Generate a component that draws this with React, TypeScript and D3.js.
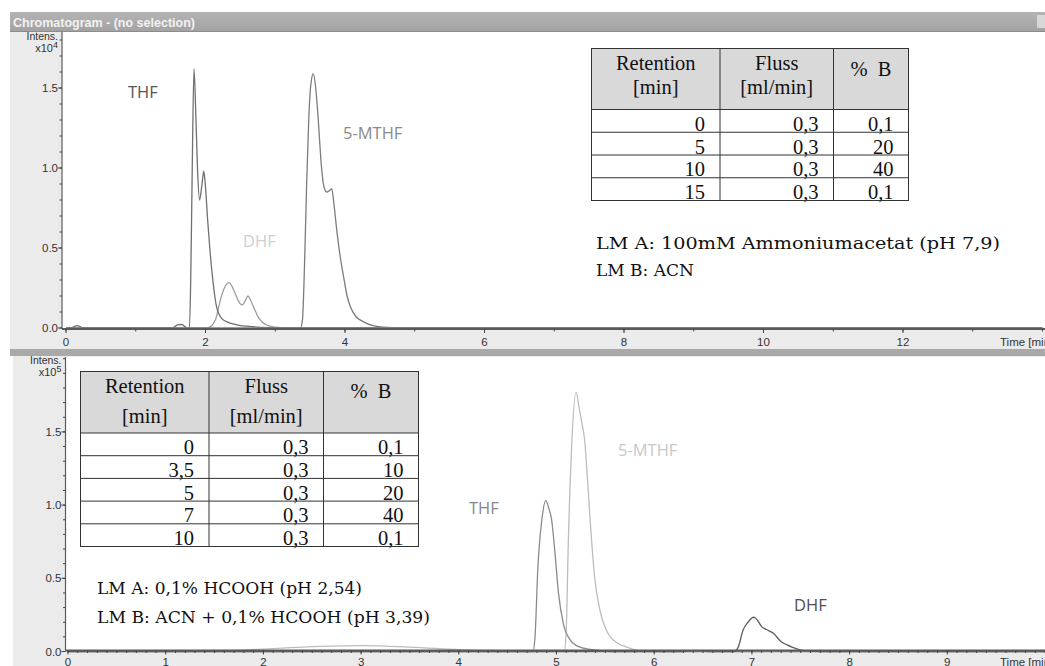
import React from "react";
import * as d3 from "d3";

type Pt = [number, number];

// Upper run: retention time [min] vs. intensity (x10^4)
const upperTHF: Pt[] = [
  [0, 0], [0.08, 0.002], [0.16, 0.015], [0.24, 0.002], [0.4, 0], [1.52, 0], [1.6, 0.02], [1.66, 0.022],
  [1.72, 0.004], [1.77, 0], [1.79, 0.35], [1.81, 1.0], [1.835, 1.62], [1.86, 1.35], [1.885, 1.0],
  [1.915, 0.8], [1.95, 0.9], [1.975, 0.98], [2.0, 0.88], [2.03, 0.68], [2.065, 0.48], [2.11, 0.28],
  [2.16, 0.13], [2.23, 0.06], [2.3, 0.04], [2.45, 0.02], [2.68, 0.008], [3.0, 0.002], [3.2, 0], [14, 0],
];
const upperDHF: Pt[] = [
  [0, 0], [2.0, 0], [2.04, 0.003], [2.1, 0.02], [2.15, 0.06], [2.21, 0.17], [2.27, 0.25], [2.34, 0.283],
  [2.38, 0.26], [2.44, 0.2], [2.5, 0.15], [2.53, 0.145], [2.57, 0.17], [2.61, 0.2], [2.65, 0.17],
  [2.7, 0.12], [2.76, 0.065], [2.82, 0.035], [2.9, 0.015], [3.0, 0.005], [3.15, 0], [14, 0],
];
const upperMTHF: Pt[] = [
  [0, 0], [3.36, 0], [3.39, 0.05], [3.42, 0.4], [3.45, 0.9], [3.48, 1.3], [3.51, 1.52], [3.545, 1.59],
  [3.58, 1.5], [3.62, 1.28], [3.66, 1.02], [3.7, 0.88], [3.74, 0.85], [3.78, 0.86], [3.81, 0.87],
  [3.84, 0.78], [3.88, 0.62], [3.93, 0.45], [3.98, 0.32], [4.03, 0.2], [4.08, 0.13], [4.15, 0.075],
  [4.26, 0.04], [4.4, 0.015], [4.6, 0.003], [4.8, 0], [14, 0],
];

// Lower run: retention time [min] vs. intensity (x10^5)
const lowerTHF: Pt[] = [
  [0, 0], [4.76, 0], [4.78, 0.1], [4.81, 0.58], [4.85, 0.9], [4.89, 1.03], [4.92, 0.98], [4.95, 0.9],
  [4.985, 0.67], [5.02, 0.4], [5.07, 0.19], [5.14, 0.08], [5.24, 0.03], [5.4, 0.01], [5.55, 0], [10, 0],
];
const lowerMTHF: Pt[] = [
  [0, 0], [1.2, 0], [1.8, 0.01], [2.4, 0.03], [3.0, 0.04], [3.5, 0.03], [4.0, 0.012], [4.5, 0],
  [5.08, 0], [5.1, 0.15], [5.12, 0.72], [5.155, 1.4], [5.2, 1.77], [5.235, 1.65], [5.26, 1.56],
  [5.29, 1.43], [5.315, 1.2], [5.34, 0.94], [5.39, 0.51], [5.445, 0.28], [5.5, 0.16], [5.55, 0.1],
  [5.63, 0.055], [5.72, 0.03], [5.85, 0.005], [6.0, 0], [10, 0],
];
const lowerDHF: Pt[] = [
  [0, 0], [6.3, 0], [6.35, 0.006], [6.5, 0.006], [6.55, 0], [6.82, 0], [6.86, 0.03], [6.91, 0.147],
  [6.96, 0.2], [7.02, 0.234], [7.06, 0.21], [7.1, 0.17], [7.15, 0.15], [7.22, 0.124], [7.3, 0.067],
  [7.36, 0.045], [7.41, 0.03], [7.5, 0.01], [7.6, 0.003], [7.7, 0], [10, 0],
];

// Axis ticks
const upperXLabels = [0, 2, 4, 6, 8, 10, 12];
const lowerXLabels = [0, 1, 2, 3, 4, 5, 6, 7, 8, 9];
const yLabels = [0, 0.5, 1.0, 1.5];

// Gradient tables
const tableHeader = [["Retention", "[min]"], ["Fluss", "[ml/min]"], ["%  B"]];
const upperRetention = ["0", "5", "10", "15"];
const upperFlow = ["0,3", "0,3", "0,3", "0,3"];
const upperPercentB = ["0,1", "20", "40", "0,1"];
const lowerRetention = ["0", "3,5", "5", "7", "10"];
const lowerFlow = ["0,3", "0,3", "0,3", "0,3", "0,3"];
const lowerPercentB = ["0,1", "10", "20", "40", "0,1"];

const upperEluents = ["LM A: 100mM Ammoniumacetat (pH 7,9)", "LM B: ACN"];
const lowerEluents = ["LM A: 0,1% HCOOH (pH 2,54)", "LM B: ACN + 0,1% HCOOH (pH 3,39)"];

const AXIS_FONT = "'Liberation Sans', Arial, sans-serif";
const LABEL_FONT = "'Open Sans', 'Noto Sans', sans-serif";
const TABLE_FONT = "'Liberation Serif', 'Times New Roman', serif";
const NOTE_FONT = "'DejaVu Serif', serif";

type Trace = { data: Pt[]; color: string };
type PeakLabel = { text: string; x: number; y: number; color: string };

type PanelProps = {
  bgX: number; bgTop: number; bgBottom: number;
  axisX: number; axisY: number; plotTop: number;
  xDomain: [number, number]; xRange: [number, number];
  yDomain: [number, number]; yRange: [number, number];
  xLabels: number[]; xMinorStep: number; yMinorMax: number;
  labelRight: number; tickLabelBaseline: number;
  exponent: string; intensY: number; expY: number;
  traces: Trace[]; peaks: PeakLabel[];
};

function Panel(p: PanelProps) {
  const x = d3.scaleLinear().domain(p.xDomain).range(p.xRange);
  const y = d3.scaleLinear().domain(p.yDomain).range(p.yRange);
  const line = d3
    .line<Pt>()
    .x((d) => x(d[0]))
    .y((d) => y(d[1]))
    .curve(d3.curveMonotoneX);
  const xMinor = d3.range(p.xDomain[0], p.xDomain[1] + 1e-6, p.xMinorStep);
  const yMinor = d3.range(0, p.yMinorMax + 1e-6, 0.1);
  return (
    <g>
      <rect x={p.bgX} y={p.bgTop} width={1045 - p.bgX} height={p.bgBottom - p.bgTop} fill="#ebebeb" />
      <rect x={p.axisX} y={p.plotTop} width={1045 - p.axisX} height={p.axisY - p.plotTop} fill="#ffffff" />
      {p.traces.map((t, i) => (
        <path key={i} d={line(t.data) || ""} fill="none" stroke={t.color} strokeWidth={1.3} strokeLinejoin="round" />
      ))}
      {p.peaks.map((l, i) => (
        <text key={i} x={l.x} y={l.y} fill={l.color} fontFamily={LABEL_FONT} fontSize={16.5}>
          {l.text}
        </text>
      ))}
      {/* axes */}
      <line x1={p.axisX} x2={1045} y1={p.axisY} y2={p.axisY} stroke="#5a5a5a" strokeWidth={1.8} />
      <line x1={p.axisX} x2={p.axisX} y1={p.plotTop} y2={p.axisY} stroke="#5a5a5a" strokeWidth={1.2} />
      {xMinor.map((v, i) => (
        <line key={i} x1={x(v)} x2={x(v)} y1={p.axisY} y2={p.axisY + 2.5} stroke="#444" strokeWidth={1} />
      ))}
      {p.xLabels.map((v) => (
        <g key={v}>
          <line x1={x(v)} x2={x(v)} y1={p.axisY} y2={p.axisY + 4} stroke="#444" strokeWidth={1} />
          <text x={x(v)} y={p.tickLabelBaseline} textAnchor="middle" fontFamily={AXIS_FONT} fontSize={11.5} fill="#333">
            {v}
          </text>
        </g>
      ))}
      <text x={1000} y={p.tickLabelBaseline} fontFamily={AXIS_FONT} fontSize={11.5} fill="#333">
        Time [min]
      </text>
      {yMinor.map((v, i) => (
        <line key={i} x1={p.axisX - 2.5} x2={p.axisX} y1={y(v)} y2={y(v)} stroke="#444" strokeWidth={1} />
      ))}
      {yLabels.map((v) => (
        <g key={v}>
          <line x1={p.axisX - 4} x2={p.axisX} y1={y(v)} y2={y(v)} stroke="#444" strokeWidth={1} />
          <text x={p.labelRight} y={y(v) + 4} textAnchor="end" fontFamily={AXIS_FONT} fontSize={11.5} fill="#333">
            {v.toFixed(1)}
          </text>
        </g>
      ))}
      <text x={p.labelRight} y={p.intensY} textAnchor="end" fontFamily={AXIS_FONT} fontSize={10.5} fill="#333">
        Intens.
      </text>
      <text x={p.labelRight} y={p.expY} textAnchor="end" fontFamily={AXIS_FONT} fontSize={11} fill="#333">
        x10
        <tspan dy={-4} fontSize={9}>
          {p.exponent}
        </tspan>
      </text>
    </g>
  );
}

type TableProps = {
  cols: number[]; top: number; headerH: number; rowH: number;
  line1: number; line2: number; single: number;
  columns: string[][];
};

function GradientTable(t: TableProps) {
  const nRows = t.columns[0].length;
  const bottom = t.top + t.headerH + nRows * t.rowH;
  const rowY = (i: number) => t.top + t.headerH + i * t.rowH;
  return (
    <g fontFamily={TABLE_FONT} fontSize={20.5} fill="#111">
      <rect x={t.cols[0]} y={t.top} width={t.cols[3] - t.cols[0]} height={t.headerH} fill="#d9d9d9" />
      <rect x={t.cols[0]} y={t.top + t.headerH} width={t.cols[3] - t.cols[0]} height={nRows * t.rowH} fill="#ffffff" />
      {tableHeader.map((h, c) => {
        const cx = (t.cols[c] + t.cols[c + 1]) / 2;
        return h.length === 2 ? (
          <g key={c}>
            <text x={cx} y={t.top + t.line1} textAnchor="middle">{h[0]}</text>
            <text x={cx} y={t.top + t.line2} textAnchor="middle">{h[1]}</text>
          </g>
        ) : (
          <text key={c} x={cx} y={t.top + t.single} textAnchor="middle" style={{ whiteSpace: "pre" }}>
            {h[0]}
          </text>
        );
      })}
      {t.columns.map((col, c) =>
        col.map((v, r) => (
          <text key={`${c}-${r}`} x={t.cols[c + 1] - 15} y={rowY(r + 1) - 1.5} textAnchor="end">
            {v}
          </text>
        ))
      )}
      <g stroke="#333" strokeWidth={1} fill="none">
        <rect x={t.cols[0]} y={t.top} width={t.cols[3] - t.cols[0]} height={bottom - t.top} />
        {d3.range(0, nRows).map((i) => (
          <line key={i} x1={t.cols[0]} x2={t.cols[3]} y1={rowY(i)} y2={rowY(i)} />
        ))}
        {[1, 2].map((c) => (
          <line key={c} x1={t.cols[c]} x2={t.cols[c]} y1={t.top} y2={bottom} />
        ))}
      </g>
    </g>
  );
}

// Set widths of the eluent notes (px)
const upperEluentWidths = [404, 0];
const lowerEluentWidths = [265, 333];

export default function App() {
  return (
    <div style={{ position: "absolute", left: 0, top: 0 }}>
      <svg width={1045} height={666} style={{ display: "block", background: "#ffffff" }}>
        <defs>
          <linearGradient id="titleBar" x1="0" y1="0" x2="0" y2="1">
            <stop offset="0" stopColor="#b4b4b4" />
            <stop offset="1" stopColor="#a2a2a2" />
          </linearGradient>
        </defs>

        <Panel
          bgX={10} bgTop={31} bgBottom={349}
          axisX={62} axisY={329} plotTop={32}
          xDomain={[0, 14]} xRange={[66, 1042.5]}
          yDomain={[0, 1.85]} yRange={[328, 32]}
          xLabels={upperXLabels} xMinorStep={1} yMinorMax={1.8}
          labelRight={58} tickLabelBaseline={346}
          exponent="4" intensY={40} expY={52}
          traces={[
            { data: upperDHF, color: "#9c9c9c" },
            { data: upperTHF, color: "#707070" },
            { data: upperMTHF, color: "#7c7c7c" },
          ]}
          peaks={[
            { text: "THF", x: 128, y: 98, color: "#555555" },
            { text: "5-MTHF", x: 343, y: 139, color: "#8a8a8a" },
            { text: "DHF", x: 243, y: 247, color: "#cfcfcf" },
          ]}
        />

        {/* window title bar */}
        <rect x={10} y={12} width={1035} height={20} fill="url(#titleBar)" />
        <line x1={10} x2={1045} y1={31.5} y2={31.5} stroke="#8c8c8c" strokeWidth={1} />
        <text x={13} y={26.5} fontFamily={AXIS_FONT} fontWeight="bold" fontSize={12.5} fill="#f2f2f2">
          Chromatogram - (no selection)
        </text>
        <rect x={1037} y={15} width={8} height={13} fill="#d8d8d8" />

        {/* divider between the two runs */}
        <rect x={10} y={349} width={1035} height={7} fill="#a9a9a9" />

        <Panel
          bgX={13} bgTop={356} bgBottom={666}
          axisX={65.5} axisY={650.5} plotTop={357}
          xDomain={[0, 10]} xRange={[68, 1045]}
          yDomain={[0, 2.0]} yRange={[651.5, 358.7]}
          xLabels={lowerXLabels} xMinorStep={0.1} yMinorMax={2.0}
          labelRight={61.5} tickLabelBaseline={665.5}
          exponent="5" intensY={364} expY={376}
          traces={[
            { data: lowerMTHF, color: "#bdbdbd" },
            { data: lowerTHF, color: "#8a8a8a" },
            { data: lowerDHF, color: "#5e5e5e" },
          ]}
          peaks={[
            { text: "THF", x: 469, y: 514, color: "#8a8a8a" },
            { text: "5-MTHF", x: 618, y: 456, color: "#c8c8c8" },
            { text: "DHF", x: 794, y: 611, color: "#505050" },
          ]}
        />

        <GradientTable
          cols={[591.5, 720, 833.5, 908.5]} top={48.5} headerH={61} rowH={22.75}
          line1={21.5} line2={45} single={27}
          columns={[upperRetention, upperFlow, upperPercentB]}
        />
        <GradientTable
          cols={[80.5, 209, 323.5, 418.5]} top={371.5} headerH={61.5} rowH={22.7}
          line1={21} line2={51.5} single={26}
          columns={[lowerRetention, lowerFlow, lowerPercentB]}
        />

        <g fontFamily={NOTE_FONT} fontSize={17} fill="#111">
          {upperEluents.map((s, i) => (
            <text
              key={s} x={596} y={249 + i * 27}
              {...(upperEluentWidths[i] ? { textLength: upperEluentWidths[i], lengthAdjust: "spacingAndGlyphs" } : {})}
            >
              {s}
            </text>
          ))}
          {lowerEluents.map((s, i) => (
            <text key={s} x={97} y={594 + i * 29} textLength={lowerEluentWidths[i]} lengthAdjust="spacingAndGlyphs">
              {s}
            </text>
          ))}
        </g>
      </svg>
    </div>
  );
}
